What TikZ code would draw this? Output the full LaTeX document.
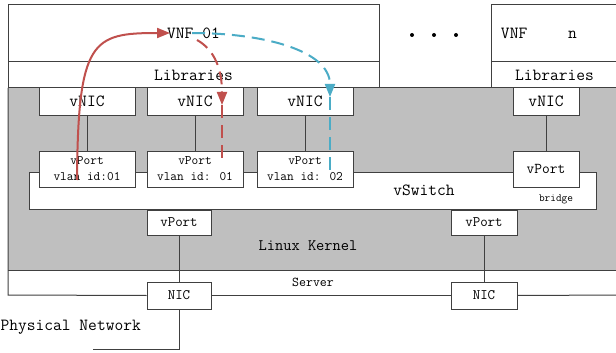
\documentclass[tikz,border=0pt]{standalone}
\usetikzlibrary{arrows.meta}
\definecolor{lred}{HTML}{C0504D}
\definecolor{lblue}{HTML}{4BACC6}
\definecolor{kgray}{HTML}{BFBFBF}
\definecolor{edgec}{HTML}{404040}
\begin{document}
\begin{tikzpicture}[x=1pt,y=-1pt,
  box/.style={draw=edgec, line width=1pt, fill=white, inner sep=0pt, align=center,
    font=\fontsize{17}{18}\selectfont\ttfamily},
  portbox/.style={box, font=\fontsize{13}{16}\selectfont\ttfamily},
  lowbox/.style={box, font=\fontsize{14.5}{16}\selectfont\ttfamily},
  txt/.style={inner sep=0pt, font=\fontsize{17}{18}\selectfont\ttfamily},
  conn/.style={draw=edgec, line width=1pt},
  dotmark/.style={fill=black, circle, inner sep=0pt, minimum size=4pt},
  redflow/.style={draw=lred, line width=2pt, -{Triangle[length=13pt,width=10pt]}},
  blueflow/.style={draw=lblue, line width=2pt, dash pattern=on 13pt off 7pt, -{Triangle[length=13pt,width=10pt]}}
]
\clip (0,0) rectangle (616,353);
\fill[white] (0,0) rectangle (616,353);

% kernel / server background
\fill[kgray] (8,88) rectangle (620,270);
\draw[conn] (8,88) -- (620,88);
\draw[conn] (8,270) -- (620,270);

% VNF boxes
\node[box, minimum width=371pt, minimum height=57pt] (vnf1) at (193.5,33.5) {VNF 01};
\node[box, minimum width=371pt, minimum height=26pt] (lib1) at (193.5,75) {Libraries};
\node[box, minimum width=127pt, minimum height=57pt] (vnfn) at (554.5,33.5) {};
\node[txt] (vnfnlabel) at (539,33) {VNF\hspace{41pt}n};
\node[box, minimum width=127pt, minimum height=26pt] (libn) at (554.5,75) {Libraries};
\node[dotmark] (dot1) at (412,35) {};
\node[dotmark] (dot2) at (434,35) {};
\node[dotmark] (dot3) at (456,35) {};

% vSwitch
\node[box, minimum width=567pt, minimum height=37pt] (vswitch) at (312.5,190.5) {};
\node[txt] (vswitchlabel) at (424,190) {vSwitch};
\node[inner sep=0pt, font=\fontsize{11}{12}\selectfont\ttfamily] (bridge) at (556,199) {bridge};

% vNICs
\node[box, minimum width=96pt, minimum height=27pt] (vnic1) at (87,101.5) {vNIC};
\node[box, minimum width=96pt, minimum height=27pt] (vnic2) at (195,101.5) {vNIC};
\node[box, minimum width=96pt, minimum height=27pt] (vnic3) at (305,101.5) {vNIC};
\node[box, minimum width=66pt, minimum height=27pt] (vnic4) at (546,101.5) {vNIC};

% vPorts
\node[portbox, minimum width=96pt, minimum height=36pt] (vport1) at (87,169) {vPort\\vlan id:01};
\node[portbox, minimum width=96pt, minimum height=36pt] (vport2) at (195,169) {vPort\\vlan id: 01};
\node[portbox, minimum width=96pt, minimum height=36pt] (vport3) at (305,169) {vPort\\vlan id: 02};
\node[lowbox, font=\fontsize{15}{16}\selectfont\ttfamily, minimum width=66pt, minimum height=36pt] (vport4) at (546,169) {vPort};

% lower vPorts
\node[lowbox, minimum width=64pt, minimum height=25pt] (lvport1) at (179,222.5) {vPort};
\node[lowbox, minimum width=66pt, minimum height=25pt] (lvport2) at (484,222.5) {vPort};

% labels
\node[txt, font=\fontsize{16}{18}\selectfont\ttfamily] (kernel) at (308,246) {Linux Kernel};
\node[txt, font=\fontsize{13.5}{15}\selectfont\ttfamily] (server) at (313,282) {Server};

% NICs
\node[lowbox, minimum width=64pt, minimum height=27pt] (nic1) at (179,295.5) {NIC};
\node[lowbox, minimum width=66pt, minimum height=27pt] (nic2) at (484,295.5) {NIC};

% server outline
\draw[conn] (8,88) -- (8,295) -- (nic1.west);
\draw[conn] (nic1.east) -- (nic2.west);
\draw[conn] (nic2.east) -- (620,295);

% connectors
\draw[conn] (vnic1) -- (vport1);
\draw[conn] (vnic2) -- (vport2);
\draw[conn] (vnic3) -- (vport3);
\draw[conn] (vnic4) -- (vport4);
\draw[conn] (lvport1) -- (nic1);
\draw[conn] (lvport2) -- (nic2);
\coordinate (physend) at (93,349);
\draw[conn] (nic1.south) |- (physend);
\node[txt, anchor=west] (phys) at (0.5,327) {Physical Network};

% flows
\coordinate (rs) at (77,180);
\coordinate (rt) at (170,33);
\draw[redflow] (rs) .. controls (78,40) and (92,33) .. (rt);
\coordinate (rds) at (197,40);
\coordinate (rdt) at (222,105);
\coordinate (rde) at (222,158);
\draw[redflow, dash pattern=on 13pt off 7pt] (rds) .. controls (215,50) and (222,70) .. (rdt);
\draw[draw=lred, line width=2pt, dash pattern=on 13pt off 7pt] (rdt) -- (rde);
\coordinate (bs) at (192,33);
\coordinate (bt) at (330,97);
\coordinate (be) at (330,171);
\draw[blueflow] (bs) .. controls (262,33) and (330,50) .. (bt);
\draw[draw=lblue, line width=2pt, dash pattern=on 13pt off 7pt] (bt) -- (be);
\end{tikzpicture}
\end{document}
